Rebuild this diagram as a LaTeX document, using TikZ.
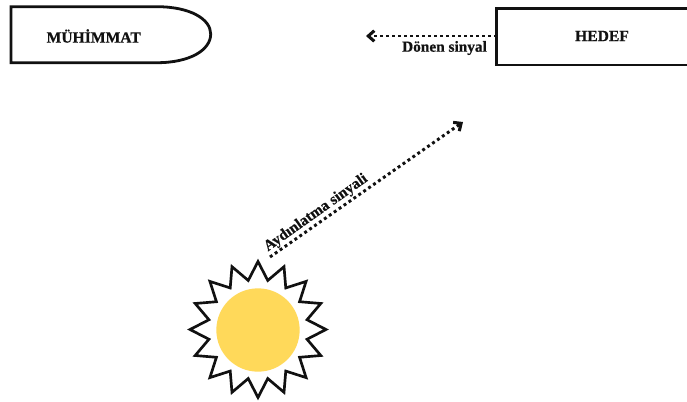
\documentclass[tikz,border=0pt]{standalone}
\usepackage{fontspec}
\setmainfont{Liberation Serif}[BoldFeatures={FakeBold=0.6}]
\usetikzlibrary{arrows.meta,shapes.geometric}
\definecolor{sunyellow}{HTML}{FFD95A}
\definecolor{inkblack}{HTML}{111111}
\tikzset{
  outline/.style={draw=inkblack,line width=2.1pt},
  label/.style={font=\bfseries\fontsize{11.7}{13}\selectfont,text=inkblack,inner sep=0pt},
  smalllabel/.style={font=\bfseries\fontsize{11.5}{13}\selectfont,text=inkblack,inner sep=0pt},
  signal/.style={draw=inkblack,line width=2.2pt,dash pattern=on 2.2pt off 2.3pt,
     -{Straight Barb[length=4.5pt,width=8pt,line width=2.3pt]}},
}
\begin{document}
\begin{tikzpicture}[x=0.75pt,y=-0.75pt]
\useasboundingbox (0,0) rectangle (687,401);
\fill[white] (0,0) rectangle (687,401);
% munition
\draw[outline] (157,6.7) -- (11,6.7) -- (11,62.7) -- (157,62.7)
  .. controls (190,62.7) and (210.7,50) .. (210.7,34)
  .. controls (210.7,19) and (190,6.7) .. (157,6.7) -- cycle;
\node[label] (muhimmat) at (93.7,36) {MÜHİMMAT};
% target
\draw[outline] (687,8.3) -- (496.8,8.3) -- (496.8,65) -- (687,65);
\node[label] (hedef) at (602,36) {HEDEF};
\coordinate (targetport) at (496.8,36);
\coordinate (returnend) at (366,36);
\draw[signal] (targetport) -- (returnend);
\node[smalllabel] (donen) at (444.5,48) {Dönen sinyal};
% sun
\node[star,star points=16,star point ratio=1.36,minimum size=102pt,inner sep=0pt,
      outline,line width=2pt,fill=white] (sun) at (258,329.5) {};
\node[circle,fill=sunyellow,minimum size=62.5pt,inner sep=0pt] (disc) at (258,330) {};
\coordinate (lightstart) at (270,257);
\coordinate (lightend) at (463,122);
\draw[signal] (lightstart) -- (lightend);
\node[smalllabel,rotate=35.3] (aydin) at (316,213) {Aydınlatma sinyali};
\end{tikzpicture}
\end{document}
